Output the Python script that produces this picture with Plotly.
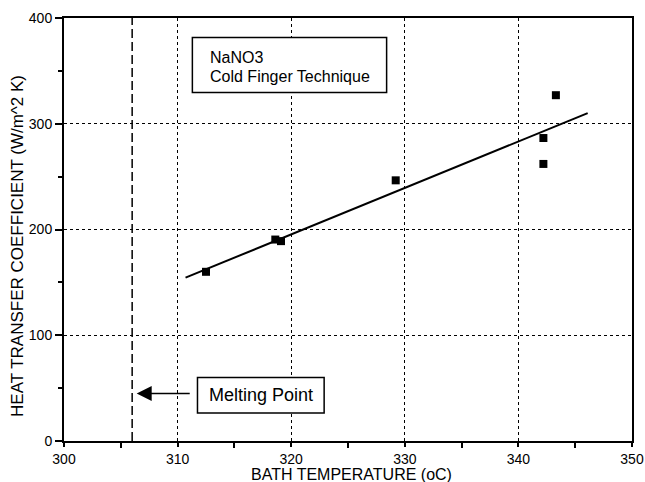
import plotly.graph_objects as go

# Data
bath_temp = [312.5, 318.6, 319.1, 329.2, 342.2, 342.2, 343.3]
htc = [160, 190.5, 189, 246.5, 286.5, 262, 327]

fit_x = [310.7, 346.1]
fit_y = [154.5, 310]

melting_point = 306
x_ticks = [300, 310, 320, 330, 340, 350]
y_ticks = [0, 100, 200, 300, 400]

FONT = "Liberation Sans, Arial, sans-serif"

fig = go.Figure()

# melting point dashed line
fig.add_trace(go.Scatter(x=[melting_point, melting_point], y=[0, 400], mode="lines",
                         line=dict(color="black", width=1.5, dash="9px,4px"),
                         showlegend=False, hoverinfo="skip"))

fig.add_trace(go.Scatter(x=fit_x, y=fit_y, mode="lines",
                         line=dict(color="black", width=2), showlegend=False))

fig.add_trace(go.Scatter(x=bath_temp, y=htc, mode="markers",
                         marker=dict(symbol="square", size=8, color="black"),
                         showlegend=False))

# text box upper
fig.add_shape(type="rect", x0=311.3, x1=328.4, y0=329.5, y1=381.5, xref="x", yref="y",
              line=dict(color="black", width=1.5), fillcolor="white", layer="above")
fig.add_annotation(x=312.7, y=363, xref="x", yref="y", text="NaNO3", showarrow=False,
                   xanchor="left", yanchor="middle", font=dict(family=FONT, size=16, color="black"))
fig.add_annotation(x=312.7, y=345, xref="x", yref="y", text="Cold Finger Technique", showarrow=False,
                   xanchor="left", yanchor="middle", font=dict(family=FONT, size=16, color="black"))

# melting point box
fig.add_shape(type="rect", x0=311.75, x1=322.9, y0=26.5, y1=60, xref="x", yref="y",
              line=dict(color="black", width=1.5), fillcolor="white", layer="above")
fig.add_annotation(x=317.3, y=43.5, xref="x", yref="y", text="Melting Point", showarrow=False,
                   xanchor="center", yanchor="middle", font=dict(family=FONT, size=18, color="black"))
fig.add_annotation(x=306.4, y=45, ax=311.2, ay=45, xref="x", yref="y", axref="x", ayref="y",
                   text="", showarrow=True, arrowhead=2, arrowsize=2, arrowwidth=1.5,
                   arrowcolor="black")

# axis titles
fig.add_annotation(x=0.507, y=-0.079, xref="paper", yref="paper", text="BATH TEMPERATURE (oC)",
                   showarrow=False, xanchor="center", yanchor="middle",
                   font=dict(family=FONT, size=16, color="black"))
fig.add_annotation(x=-0.081, y=0.461, xref="paper", yref="paper",
                   text="HEAT TRANSFER COEFFICIENT (W/m^2 K)", textangle=-90,
                   showarrow=False, xanchor="center", yanchor="middle",
                   font=dict(family=FONT, size=17, color="black"))

axis_common = dict(showline=True, linecolor="black", linewidth=2, mirror=True,
                   ticks="outside", tickwidth=1.5, tickcolor="black",
                   showgrid=True, gridcolor="black", gridwidth=1.3, griddash="dot",
                   zeroline=False, automargin=False,
                   tickfont=dict(family=FONT, size=14, color="black"))

fig.update_xaxes(range=[300, 350], tickvals=x_ticks, ticktext=[str(v) for v in x_ticks],
                 ticklen=4,
                 minor=dict(tickvals=[305, 315, 325, 335, 345], ticks="outside", ticklen=5,
                            tickcolor="black", tickwidth=1.5, showgrid=False),
                 ticklabelstandoff=0,
                 **axis_common)
fig.update_yaxes(range=[0, 400], tickvals=y_ticks, ticktext=[str(v) for v in y_ticks],
                 ticklen=7,
                 minor=dict(tickvals=[50, 150, 250, 350], ticks="outside", ticklen=4,
                            tickcolor="black", tickwidth=1.5, showgrid=False),
                 ticklabelstandoff=0,
                 **axis_common)

fig.update_layout(width=645, height=482, margin=dict(l=64, r=13, t=18, b=41),
                  plot_bgcolor="white", paper_bgcolor="white", showlegend=False)

fig.write_html("out.html", config={"displayModeBar": False},
               post_script="document.body.style.margin='0';document.body.style.overflow='hidden';")
